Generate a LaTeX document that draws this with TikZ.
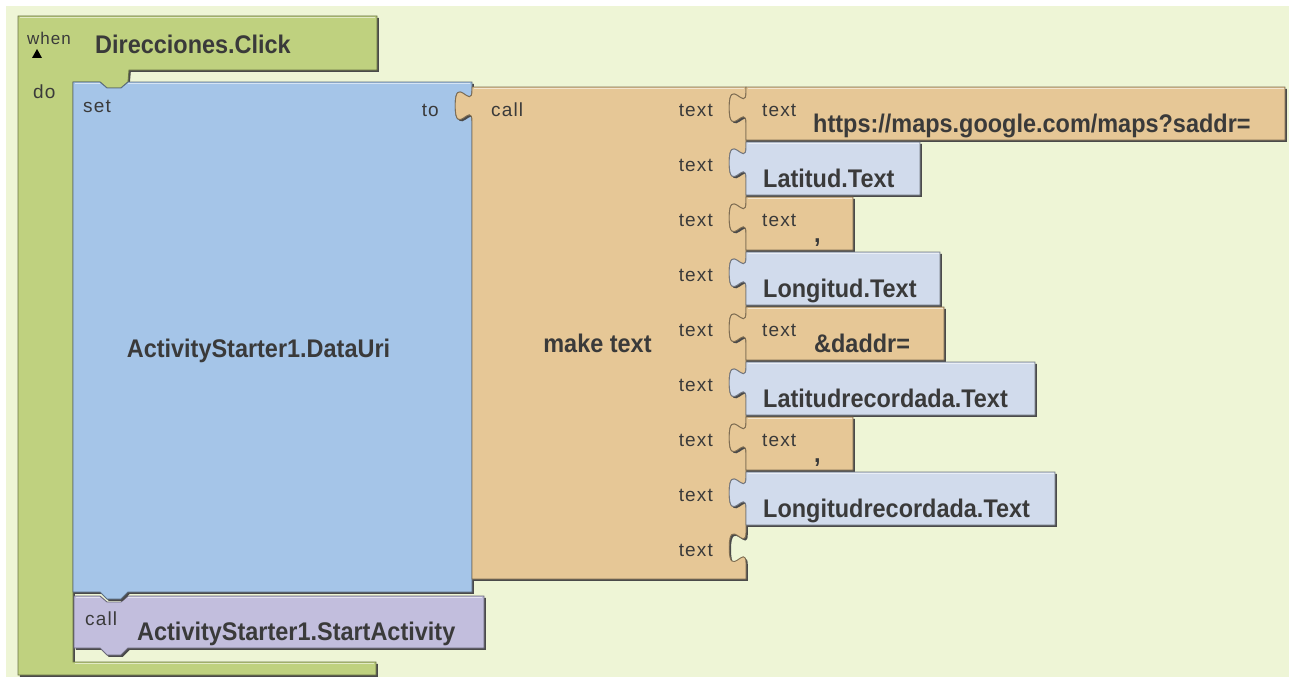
\documentclass[tikz,border=0pt]{standalone}
\usepackage{fontspec}
\setmainfont{Liberation Sans}
\newfontfamily\bigf{Liberation Sans}[FakeStretch=0.92]
\newfontfamily\smf{Liberation Sans}[LetterSpace=6]
\definecolor{bgc}{HTML}{EEF5D6}
\definecolor{evgreen}{HTML}{BFD17F}
\definecolor{setblue}{HTML}{A5C5E8}
\definecolor{tanc}{HTML}{E6C796}
\definecolor{lblue}{HTML}{D1DBEC}
\definecolor{purp}{HTML}{C2BEDD}
\definecolor{shadowc}{HTML}{4A4A4A}
\definecolor{txt}{HTML}{3A3A3A}
% puzzle tab going down from (#1,#2) to (#1,#2+31.5), bulging left
\newcommand{\tabdown}[2]{.. controls (#1,{#2+21}) and ({#1-16.8},{#2-16.8}) .. ({#1-16.8},{#2+15.75}) .. controls ({#1-16.8},{#2+48.3}) and (#1,{#2+10.5}) .. (#1,{#2+31.5})}
% same tab traversed upward, from (#1,#2+31.5) to (#1,#2)
\newcommand{\tabup}[2]{.. controls (#1,{#2+10.5}) and ({#1-16.8},{#2+48.3}) .. ({#1-16.8},{#2+15.75}) .. controls ({#1-16.8},{#2-16.8}) and (#1,{#2+21}) .. (#1,#2)}
\newcommand{\greenpath}{(18,16) -- (377,16) -- (377,70) -- (129,70) -- (128,82) -- (121,88) -- (107,88) -- (100,82) -- (73,82) -- (73,662) -- (376,662) -- (376,675) -- (18,675) -- cycle}
\newcommand{\bluepath}{(73,82) -- (100,82) -- (107,88) -- (121,88) -- (128,82) -- (472,82) -- (472,90) \tabdown{472}{90} -- (472,592) -- (128,592) -- (121,599) -- (107,599) -- (100,592) -- (73,592) -- cycle}
\newcommand{\purplepath}{(74,596) -- (100,596) -- (107,602) -- (121,602) -- (128,596) -- (484,596) -- (484,648) -- (128,648) -- (121,655) -- (107,655) -- (100,648) -- (74,648) -- cycle}
\newcommand{\tanpath}{(472,87) -- (746,87) \foreach \i in {0,...,8}{ -- (746,{92+55*\i}) \tabdown{746}{92+55*\i} } -- (746,579) -- (472,579) -- (472,121.5) \tabup{472}{90} -- cycle}
% child value block: #1 right edge, #2 row index
\newcommand{\childpath}[2]{(746,{87+55*#2}) -- (#1,{87+55*#2}) -- (#1,{140+55*#2}) -- (746,{140+55*#2}) -- (746,{123.5+55*#2}) \tabup{746}{92+55*#2} -- cycle}
\newcommand{\blk}[2]{%
  \fill[shadowc, shift={(1.8,1.8)}] #2;
  \fill[#1] #2;
  \draw[#1!55!black, line width=0.9] #2;}
\begin{document}
\begin{tikzpicture}[x=1pt,y=-1pt,
  lbl/.style={font=\smf\fontsize{19}{19}\selectfont, text=txt, inner sep=0pt, anchor=base west},
  big/.style={font=\bigf\bfseries\fontsize{25.5}{26}\selectfont, text=txt, inner sep=0pt, anchor=base west},
  hl/.style={white, opacity=0.55, line width=1.4}]
\useasboundingbox (0,0) rectangle (1289,677);
\fill[white] (0,0) rectangle (1289,677);
\fill[bgc] (6,6) rectangle (1289,677);
% event block
\blk{evgreen}{\greenpath}
\draw[hl] (20,17.5) -- (375,17.5);
\draw[hl] (74.5,663.5) -- (374,663.5);
% call StartActivity
\blk{purp}{\purplepath}
\draw[hl] (76,597.5) -- (100,597.5) (128,597.5) -- (482,597.5);
% set block
\blk{setblue}{\bluepath}
\draw[hl] (75,83.5) -- (100,83.5) (128,83.5) -- (470,83.5);
% make text block
\blk{tanc}{\tanpath}
\draw[hl] (474,88.5) -- (744,88.5);
% children
\blk{tanc}{\childpath{1285}{0}}
\blk{lblue}{\childpath{920}{1}}
\blk{tanc}{\childpath{853}{2}}
\blk{lblue}{\childpath{940}{3}}
\blk{tanc}{\childpath{944}{4}}
\blk{lblue}{\childpath{1035}{5}}
\blk{tanc}{\childpath{853}{6}}
\blk{lblue}{\childpath{1055}{7}}
\foreach \r/\R in {0/1285,1/920,2/853,3/940,4/944,5/1035,6/853,7/1055}{
  \draw[hl] (748,{88.5+55*\r}) -- ({\R-1},{88.5+55*\r});
}
% texts
\node[lbl, font=\smf\fontsize{17}{17}\selectfont] (when) at (27,45) {when};
\fill[black] (32,58) -- (42,58) -- (37,49) -- cycle;
\node[big] (evt) at (95,53) {Direcciones.Click};
\node[lbl] (do) at (33,98) {do};
\node[lbl] (set) at (83,112) {set};
\node[lbl, anchor=base east] (to) at (439,116) {to};
\node[big, anchor=base] (uri) at (258.5,357) {ActivityStarter1.DataUri};
\node[lbl] (pcall) at (85,625) {call};
\node[big] (start) at (137,640) {ActivityStarter1.StartActivity};
\node[lbl] (call) at (491,116) {call};
\node[big, anchor=base] (mk) at (597.5,352) {make text};
\foreach \i in {0,...,8}{
  \node[lbl, anchor=base east] (in\i) at (713,{116+55*\i}) {text};
}
\node[lbl] (t0) at (762,116) {text};
\node[big] (v0) at (813,132) {https://maps.google.com/maps?saddr=};
\node[big] (v1) at (763,187) {Latitud.Text};
\node[lbl] (t2) at (762,226) {text};
\node[big] (v2) at (814,242) {,};
\node[big] (v3) at (763,297) {Longitud.Text};
\node[lbl] (t4) at (762,336) {text};
\node[big] (v4) at (814,352) {\&daddr=};
\node[big] (v5) at (763,407) {Latitudrecordada.Text};
\node[lbl] (t6) at (762,446) {text};
\node[big] (v6) at (814,462) {,};
\node[big] (v7) at (763,517) {Longitudrecordada.Text};
\end{tikzpicture}
\end{document}
